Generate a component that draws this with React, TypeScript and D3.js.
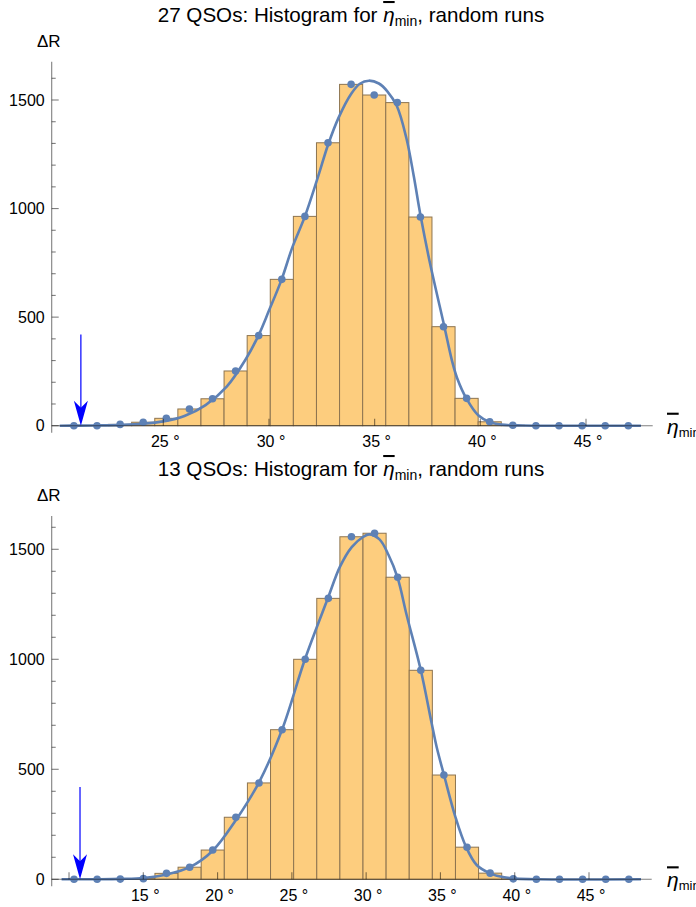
import * as d3 from "d3";

// font used for every label
const font = "'Liberation Sans', Arial, sans-serif";

// chart titles
const top_title = "27 QSOs";
const bottom_title = "13 QSOs";

// histogram of the top run: first bin edge, bin width (degrees) and counts
const top_bin_start = 20.224;
const top_bin_width = 1.093;
const top_counts = [
  0, 0, 6, 16, 34, 77, 124, 252, 415, 674, 964, 1303, 1572, 1523, 1488, 961,
  456, 126, 18, 2, 0, 0, 0, 0, 0,
];

// histogram of the bottom run
const bottom_bin_start = 9.56;
const bottom_bin_width = 1.556;
const bottom_counts = [
  0, 0, 1, 3, 27, 55, 133, 282, 438, 680, 1000, 1277, 1557, 1573, 1373, 950,
  474, 146, 28, 2, 0, 0, 0, 0, 0,
];

// fitted curves as [degrees, count]
const top_fit: [number, number][] = [
  [20.1, 0], [21, 0.5], [22, 1.5], [23, 4], [24, 9], [25, 20], [26, 45],
  [27, 95], [28, 180], [28.9, 306], [29.5, 415], [30, 530], [30.6, 674],
  [31.1, 820], [31.7, 964], [32.3, 1140], [32.8, 1295], [33.3, 1420],
  [33.9, 1530], [34.3, 1575], [34.73, 1589], [35.2, 1576], [35.6, 1540],
  [36.05, 1472], [36.5, 1325], [36.85, 1150], [37.18, 963], [37.62, 748],
  [38.3, 456], [38.65, 303], [38.9, 220], [39.36, 122], [39.9, 48],
  [40.46, 16], [41, 5], [42, 1], [43, 0], [47.6, 0],
];

const bottom_fit: [number, number][] = [
  [9.5, 0], [12, 0.5], [13.5, 2], [15, 6], [16.57, 22], [18.12, 55],
  [19.67, 130], [21.24, 270], [22.79, 441], [24.35, 682], [25.88, 1000],
  [27.41, 1275], [28.24, 1421], [29.03, 1510], [29.81, 1557], [30.2, 1568],
  [30.9, 1545], [31.5, 1475], [32.12, 1370], [32.73, 1200], [33.68, 950],
  [34.41, 709], [34.75, 600], [35.24, 474], [36.0, 285], [36.72, 148],
  [37.44, 65], [38.34, 27], [39.2, 10], [40.1, 3], [41.5, 0], [48.5, 0],
];

// observed value marked by the arrow, and the height the arrow starts at
const top_observed = 21.1;
const bottom_observed = 10.74;
const arrow_from = 420;

// axis ticks
const top_x_ticks = [25, 30, 35, 40, 45];
const top_x_labels = [25, 30, 35, 40, 45];
const bottom_x_ticks = [10, 15, 20, 25, 30, 35, 40, 45];
const bottom_x_labels = [15, 20, 25, 30, 35, 40, 45];
const y_major = [0, 500, 1000, 1500];
const y_minor = [
  100, 200, 300, 400, 600, 700, 800, 900, 1100, 1200, 1300, 1400, 1600,
];

const bar_fill = "#fdcd7e";
const bar_stroke = "#8d7450";
const fit_color = "#5e81b5";
const axis_color = "rgba(0,0,0,0.5)";

type Scale = d3.ScaleLinear<number, number>;

export default function App() {
  const width = 696;
  const height = 907;

  // x scales are anchored on two tick positions, y scales on 0 and 1500
  const top_x = d3.scaleLinear([25, 45], [163.3, 586]);
  const top_y = d3.scaleLinear([0, 1500], [425.7, 100]);
  const bottom_x = d3.scaleLinear([15, 45], [143.3, 589]);
  const bottom_y = d3.scaleLinear([0, 1500], [425.3, 95.3]);

  return (
    <svg
      width={width}
      height={height}
      style={{ position: "absolute", left: 0, top: 0, background: "#fff" }}
      fontFamily={font}
    >
      <rect width={width} height={height} fill="#fff" />
      <Panel
        dy={0}
        title={top_title}
        counts={top_counts}
        binStart={top_bin_start}
        binWidth={top_bin_width}
        fit={top_fit}
        observed={top_observed}
        scale_x={top_x}
        scale_y={top_y}
        xEnd={652.7}
        yTop={61.7}
        xTicks={top_x_ticks}
        xLabels={top_x_labels}
      />
      <Panel
        dy={454}
        title={bottom_title}
        counts={bottom_counts}
        binStart={bottom_bin_start}
        binWidth={bottom_bin_width}
        fit={bottom_fit}
        observed={bottom_observed}
        scale_x={bottom_x}
        scale_y={bottom_y}
        xEnd={651.7}
        yTop={62}
        xTicks={bottom_x_ticks}
        xLabels={bottom_x_labels}
      />
    </svg>
  );
}

function Panel({
  dy,
  title,
  counts,
  binStart,
  binWidth,
  fit,
  observed,
  scale_x,
  scale_y,
  xEnd,
  yTop,
  xTicks,
  xLabels,
}: {
  dy: number;
  title: string;
  counts: number[];
  binStart: number;
  binWidth: number;
  fit: [number, number][];
  observed: number;
  scale_x: Scale;
  scale_y: Scale;
  xEnd: number;
  yTop: number;
  xTicks: number[];
  xLabels: number[];
}) {
  const axis_x = 51.7;
  const base = scale_y(0);

  const bins = counts.map((c, i) => ({
    x0: binStart + i * binWidth,
    x1: binStart + (i + 1) * binWidth,
    mid: binStart + (i + 0.5) * binWidth,
    c,
  }));

  const fit_line = d3
    .line<[number, number]>()
    .x((d) => scale_x(d[0]))
    .y((d) => Math.min(base, scale_y(d[1])))
    .curve(d3.curveCatmullRom.alpha(0.5));

  // arrow pointing at the observed value
  const ax = scale_x(observed);
  const head_len = 25;
  const head_half = 7;
  const head = d3.line()([
    [ax, base],
    [ax - head_half, base - head_len],
    [ax, base - head_len + 7],
    [ax + head_half, base - head_len],
  ]) + "Z";

  return (
    <g transform={`translate(0 ${dy})`}>
      {/* title */}
      <text x={351} y={22} fontSize={20.6} textAnchor="middle">
        <tspan>{title}: Histogram for </tspan>
        <tspan fontStyle="italic" style={{ textDecoration: "overline" }}>
          η
        </tspan>
        <tspan fontSize={14} dy={4}>
          min
        </tspan>
        <tspan dy={-4}>, random runs</tspan>
      </text>

      {/* y axis label */}
      <text x={37} y={46.5} fontSize={17}>
        ΔR
      </text>

      {/* bars */}
      <g fill={bar_fill} stroke={bar_stroke} strokeWidth={1}>
        {bins
          .filter((b) => b.c > 0)
          .map((b, i) => (
            <rect
              key={i}
              x={scale_x(b.x0)}
              y={scale_y(b.c)}
              width={scale_x(b.x1) - scale_x(b.x0)}
              height={base - scale_y(b.c)}
            />
          ))}
      </g>

      {/* fitted curve */}
      <path
        d={fit_line(fit) ?? ""}
        fill="none"
        stroke={fit_color}
        strokeWidth={2.6}
      />

      {/* bin points */}
      <g fill={fit_color}>
        {bins.map((b, i) => (
          <circle key={i} cx={scale_x(b.mid)} cy={scale_y(b.c)} r={3.8} />
        ))}
      </g>

      {/* arrow */}
      <line
        x1={ax}
        x2={ax}
        y1={scale_y(arrow_from)}
        y2={base - head_len + 8}
        stroke="#0000ff"
        strokeWidth={1.2}
      />
      <path d={head} fill="#0000ff" />

      {/* axes, drawn over the marks */}
      <g stroke={axis_color} strokeWidth={1.1} fill="none">
        <line x1={axis_x} x2={xEnd} y1={base} y2={base} />
        <line x1={axis_x} x2={axis_x} y1={yTop} y2={base + 7} />
        {y_major.map((v) => (
          <line
            key={v}
            x1={axis_x}
            x2={axis_x + 7}
            y1={scale_y(v)}
            y2={scale_y(v)}
          />
        ))}
        {y_minor.map((v) => (
          <line
            key={v}
            x1={axis_x}
            x2={axis_x + 4}
            y1={scale_y(v)}
            y2={scale_y(v)}
          />
        ))}
        {xTicks.map((t) => (
          <line
            key={t}
            x1={scale_x(t)}
            x2={scale_x(t)}
            y1={base}
            y2={base - 7}
          />
        ))}
      </g>

      {/* tick labels */}
      <g fontSize={16} fill="#000">
        {y_major.map((v) => (
          <text
            key={v}
            x={axis_x - 7}
            y={scale_y(v)}
            dy="0.36em"
            textAnchor="end"
          >
            {v}
          </text>
        ))}
        {xLabels.map((t) => (
          <text key={t} x={scale_x(t) + 2} y={base + 21.5} textAnchor="middle">
            {t} °
          </text>
        ))}
      </g>

      {/* x axis label, cut by the right edge as in the original */}
      <text x={667} y={base + 8} fontSize={21}>
        <tspan fontStyle="italic" style={{ textDecoration: "overline" }}>
          η
        </tspan>
        <tspan fontSize={13} dy={3}>
          min
        </tspan>
      </text>
    </g>
  );
}
